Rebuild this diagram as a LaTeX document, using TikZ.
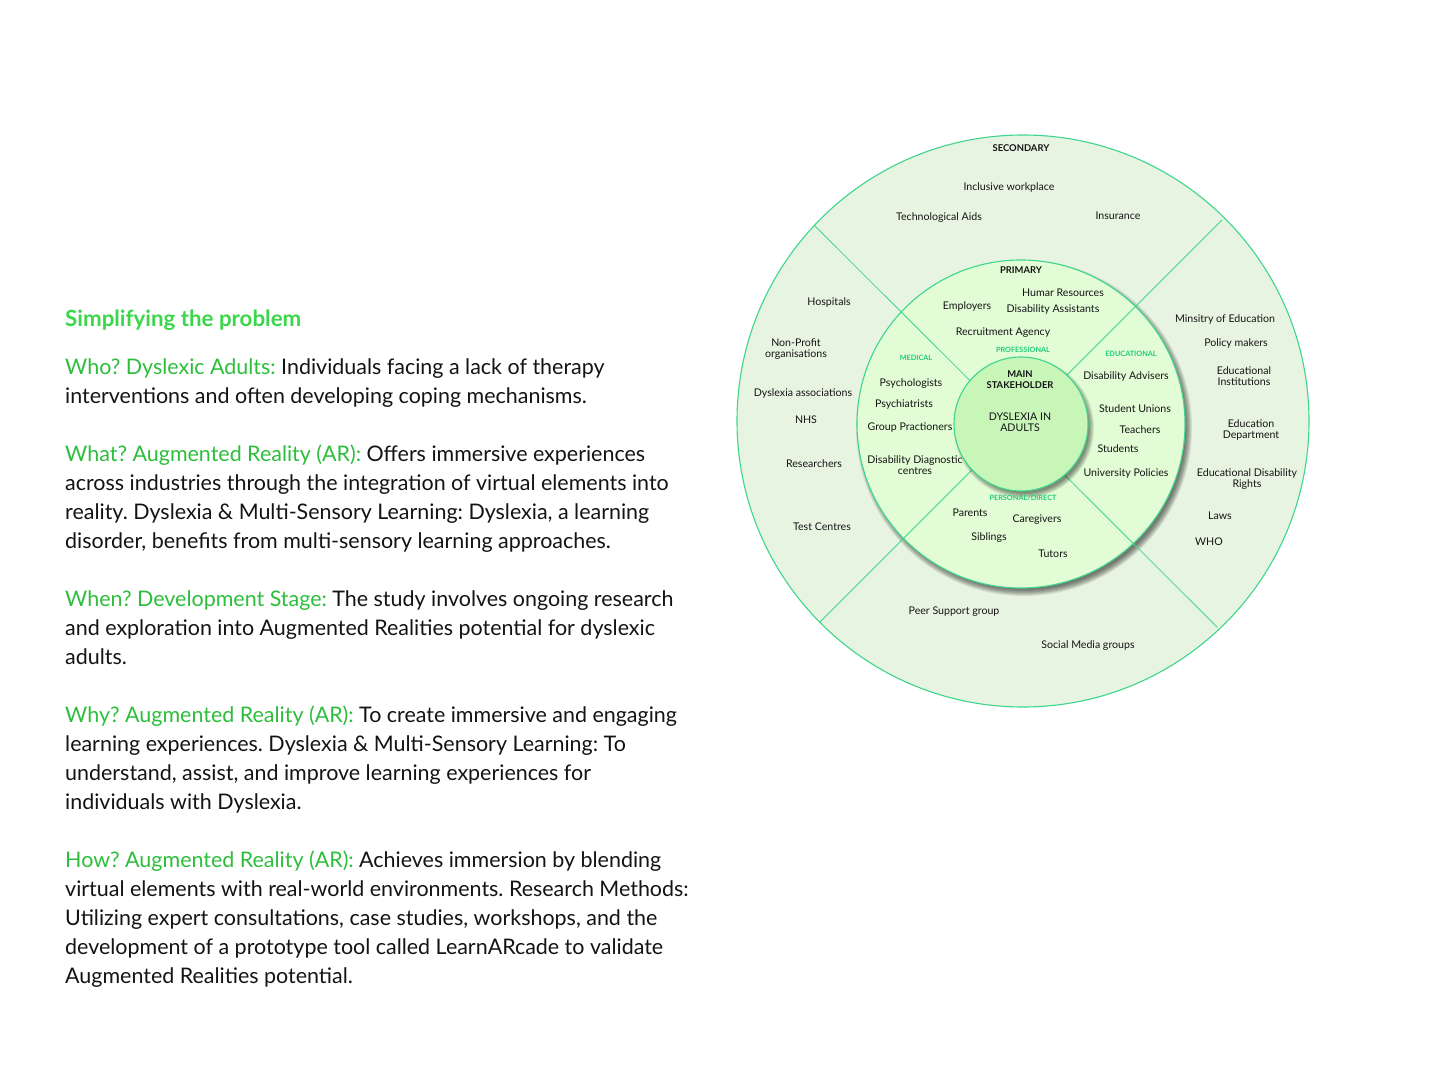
\documentclass[tikz,border=0pt]{standalone}
\usepackage{fontspec}
\setmainfont{Lato}
\frenchspacing
\definecolor{ttl}{HTML}{3CD64A}
\definecolor{hd}{HTML}{2DBE3C}
\definecolor{ringline}{HTML}{3DD68C}
\definecolor{grnlab}{HTML}{1FCB7A}
\definecolor{outerfill}{HTML}{E8F4E2}
\definecolor{primfill}{HTML}{E2FCD6}
\definecolor{innerfill}{HTML}{C8F6B8}
\definecolor{txt}{HTML}{141414}
\newcommand{\hdr}[1]{\textcolor{hd}{#1}}
\begin{document}
\begin{tikzpicture}[x=1pt,y=-1pt,
  bodyline/.style={anchor=base west, inner sep=0pt, text=txt, font=\fontsize{21.45}{24}\selectfont},
  titleline/.style={anchor=base west, inner sep=0pt, text=ttl, font=\fontsize{22.3}{24}\selectfont\bfseries},
  lab/.style={inner sep=0pt, align=center, text=txt, font=\fontsize{10.6}{11}\selectfont},
  cat/.style={inner sep=0pt, align=center, text=txt, font=\fontsize{9.4}{11}\selectfont\bfseries},
  grn/.style={inner sep=0pt, align=center, text=grnlab, font=\fontsize{7.3}{9}\selectfont\bfseries},
  ring/.style={draw=ringline, line width=1.1pt},
  divider/.style={draw=ringline, line width=0.8pt}
]
\useasboundingbox (0,0) rectangle (1444,1083);
\fill[white] (0,0) rectangle (1444,1083);

% ---------- left text ----------
\node[titleline] (title) at (65,327) {Simplifying the problem};
\node[bodyline] (l1) at (65,374) {\hdr{Who? Dyslexic Adults:} Individuals facing a lack of therapy};
\node[bodyline] (l2) at (65,403) {interventions and often developing coping mechanisms.};
\node[bodyline] (l4) at (65,461) {\hdr{What? Augmented Reality (AR):} Offers immersive experiences};
\node[bodyline] (l5) at (65,490) {across industries through the integration of virtual elements into};
\node[bodyline] (l6) at (65,519) {reality. Dyslexia \& Multi-Sensory Learning: Dyslexia, a learning};
\node[bodyline] (l7) at (65,548) {disorder, benefits from multi-sensory learning approaches.};
\node[bodyline] (l9) at (65,606) {\hdr{When? Development Stage:} The study involves ongoing research};
\node[bodyline] (l10) at (65,635) {and exploration into Augmented Realities potential for dyslexic};
\node[bodyline] (l11) at (65,664) {adults.};
\node[bodyline] (l13) at (65,722) {\hdr{Why? Augmented Reality (AR):} To create immersive and engaging};
\node[bodyline] (l14) at (65,751) {learning experiences. Dyslexia \& Multi-Sensory Learning: To};
\node[bodyline] (l15) at (65,780) {understand, assist, and improve learning experiences for};
\node[bodyline] (l16) at (65,809) {individuals with Dyslexia.};
\node[bodyline] (l18) at (65,867) {\hdr{How? Augmented Reality (AR):} Achieves immersion by blending};
\node[bodyline] (l19) at (65,896) {virtual elements with real-world environments. Research Methods:};
\node[bodyline] (l20) at (65,925) {Utilizing expert consultations, case studies, workshops, and the};
\node[bodyline] (l21) at (65,954) {development of a prototype tool called LearnARcade to validate};
\node[bodyline] (l22) at (65,983) {Augmented Realities potential.};

% ---------- rings ----------
\coordinate (oc) at (1023,421);
\coordinate (pc) at (1021,424);
\coordinate (psh) at (1024,428);
\coordinate (ish) at (1024,428);
\filldraw[ring, fill=outerfill] (oc) circle [radius=286pt];
\foreach \k in {0,...,6} \fill[black, opacity=0.09] (psh) circle [radius={(168-\k)*1pt}];
\filldraw[ring, fill=primfill] (pc) circle [radius=164pt];

\coordinate (aul) at (814,225);
\coordinate (alr) at (1217,627);
\coordinate (bur) at (1222,220);
\coordinate (bll) at (820,622);
\draw[divider] (aul) -- (alr);
\draw[divider] (bur) -- (bll);

\foreach \k in {0,...,5} \fill[black, opacity=0.09] (ish) circle [radius={(70-\k)*1pt}];
\filldraw[ring, fill=innerfill] (pc) circle [radius=67pt];

% ---------- secondary labels ----------
\node[cat] (secondary) at (1021,148) {SECONDARY};
\node[lab] (incl) at (1009,188) {Inclusive workplace};
\node[lab] (tech) at (939,218) {Technological Aids};
\node[lab] (ins) at (1118,216) {Insurance};
\node[lab] (hosp) at (829,303) {Hospitals};
\node[lab] (npo) at (796,349.5) {Non-Profit\\organisations};
\node[lab] (dysa) at (803,394) {Dyslexia associations};
\node[lab] (nhs) at (806,420) {NHS};
\node[lab] (res) at (814,464) {Researchers};
\node[lab] (test) at (822,527) {Test Centres};
\node[lab] (mine) at (1225,320) {Minsitry of Education};
\node[lab] (pol) at (1236,344) {Policy makers};
\node[lab] (einst) at (1244,376.5) {Educational\\Institutions};
\node[lab] (edep) at (1251,430.5) {Education\\Department};
\node[lab] (edr) at (1247,479.5) {Educational Disability\\Rights};
\node[lab] (laws) at (1220,516) {Laws};
\node[lab] (who) at (1209,542) {WHO};
\node[lab] (peer) at (954,612) {Peer Support group};
\node[lab] (social) at (1088,646) {Social Media groups};

% ---------- primary labels ----------
\node[cat] (primary) at (1021,270) {PRIMARY};
\node[lab] (hr) at (1063,293) {Humar Resources};
\node[lab] (emp) at (967,307) {Employers};
\node[lab] (disas) at (1053,310) {Disability Assistants};
\node[lab] (recr) at (1003,333) {Recruitment Agency};
\node[grn] (prof) at (1023,350) {PROFESSIONAL};
\node[grn] (med) at (916,358) {MEDICAL};
\node[grn] (edu) at (1131,354) {EDUCATIONAL};
\node[lab] (psyl) at (911,384) {Psychologists};
\node[lab] (psyc) at (904,405) {Psychiatrists};
\node[lab] (gp) at (910,428) {Group Practioners};
\node[lab] (ddc) at (915,465.5) {Disability Diagnostic\\centres};
\node[lab] (disad) at (1126,377) {Disability Advisers};
\node[lab] (su) at (1135,409) {Student Unions};
\node[lab] (teach) at (1140,430) {Teachers};
\node[lab] (stud) at (1118,449) {Students};
\node[lab] (unip) at (1126,474) {University Policies};
\node[grn] (pers) at (1023,498) {PERSONAL/DIRECT};
\node[lab] (par) at (970,513) {Parents};
\node[lab] (care) at (1037,520) {Caregivers};
\node[lab] (sib) at (989,538) {Siblings};
\node[lab] (tut) at (1053,554) {Tutors};

% ---------- centre ----------
\node[cat] (main) at (1020,379.5) {MAIN\\STAKEHOLDER};
\node[lab] (dyad) at (1020,422.5) {DYSLEXIA IN\\ADULTS};
\end{tikzpicture}
\end{document}
